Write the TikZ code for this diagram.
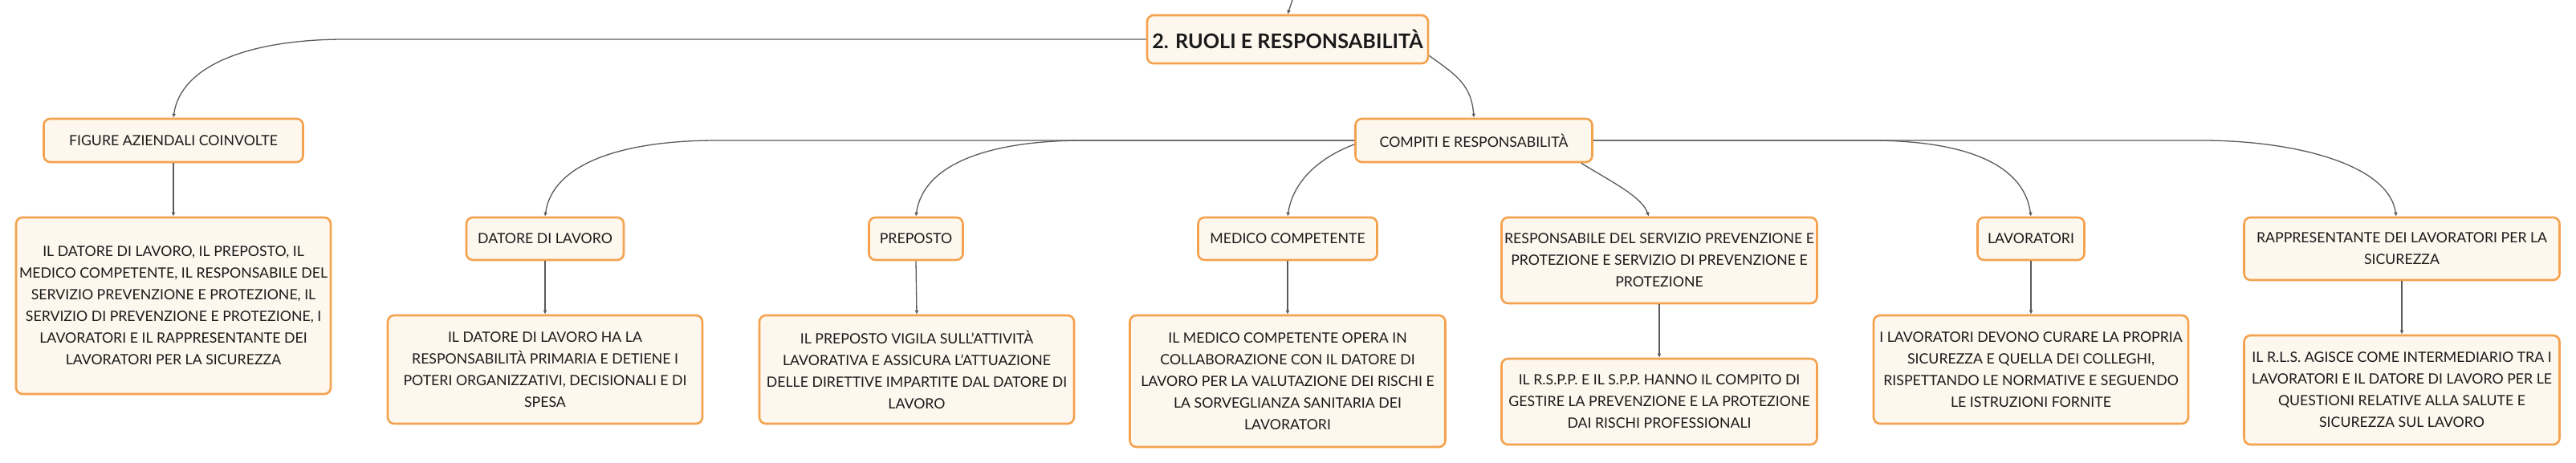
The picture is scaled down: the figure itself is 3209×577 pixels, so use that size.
\documentclass[tikz,border=0pt]{standalone}
\usepackage{fontspec}
\setmainfont{Lato}
\usepackage{xcolor}
\usepackage{tikz}
\usetikzlibrary{arrows.meta,calc}

\definecolor{cardline}{HTML}{F4A24E}
\definecolor{cardfill}{HTML}{FEF7EE}
\definecolor{connline}{HTML}{5A5A5A}
\definecolor{cardtext}{HTML}{1A1A1A}

\begin{document}
\begin{tikzpicture}[x=0.5pt, y=-0.5pt,
		card/.style={draw=cardline, fill=cardfill, line width=1.3pt, rounded corners=4pt, inner sep=1pt, align=center, text=cardtext, font=\fontsize{8.85pt}{13.5pt}\selectfont},
		rootcard/.style={card, font=\fontsize{12.6pt}{15pt}\selectfont\bfseries},
		conn/.style={draw=connline, line width=0.65pt, -{Latex[length=2.5pt,width=2.5pt]}}]
				
				\useasboundingbox (0,0) rectangle (3209,577);
				
				%Level 1
				\coordinate (sopra) at (1610,0);
				\node[rootcard, minimum width=175pt, minimum height=30pt] (ruoli) at (1604,49) {2. RUOLI E RESPONSABILITÀ};
				
				%Level 2
				\node[card, minimum width=161.5pt, minimum height=27pt] (figure) at (216,175) {FIGURE AZIENDALI COINVOLTE};
				\node[card, minimum width=147.5pt, minimum height=27pt] (compiti) at (1836,175) {COMPITI E RESPONSABILITÀ};
				
				%Level 3
				\node[card, minimum width=196pt, minimum height=110pt] (figtesto) at (216,381) {IL DATORE DI LAVORO, IL PREPOSTO, IL\\MEDICO COMPETENTE, IL RESPONSABILE DEL\\SERVIZIO PREVENZIONE E PROTEZIONE, IL\\SERVIZIO DI PREVENZIONE E PROTEZIONE, I\\LAVORATORI E IL RAPPRESENTANTE DEI\\LAVORATORI PER LA SICUREZZA};
				\node[card, minimum width=98pt, minimum height=26.5pt] (datore) at (679,297.5) {DATORE DI LAVORO};
				\node[card, minimum width=58.5pt, minimum height=26.5pt] (preposto) at (1141,297.5) {PREPOSTO};
				\node[card, minimum width=111.5pt, minimum height=26.5pt] (medico) at (1604,297.5) {MEDICO COMPETENTE};
				\node[card, minimum width=196.5pt, minimum height=53.5pt] (rspp) at (2067,324.5) {RESPONSABILE DEL SERVIZIO PREVENZIONE E\\PROTEZIONE E SERVIZIO DI PREVENZIONE E\\PROTEZIONE};
				\node[card, minimum width=66.5pt, minimum height=26.5pt] (lavoratori) at (2530,297.5) {LAVORATORI};
				\node[card, minimum width=196.5pt, minimum height=39pt] (rls) at (2992,310) {RAPPRESENTANTE DEI LAVORATORI PER LA\\SICUREZZA};
				
				%Level 4
				\node[card, minimum width=196pt, minimum height=67.5pt] (datoretesto) at (679,460.5) {IL DATORE DI LAVORO HA LA\\RESPONSABILITÀ PRIMARIA E DETIENE I\\POTERI ORGANIZZATIVI, DECISIONALI E DI\\SPESA};
				\node[card, minimum width=196pt, minimum height=67.5pt] (prepostotesto) at (1142,460.5) {IL PREPOSTO VIGILA SULL'ATTIVITÀ\\LAVORATIVA E ASSICURA L'ATTUAZIONE\\DELLE DIRETTIVE IMPARTITE DAL DATORE DI\\LAVORO};
				\node[card, minimum width=196.5pt, minimum height=82pt] (medicotesto) at (1604,475) {IL MEDICO COMPETENTE OPERA IN\\COLLABORAZIONE CON IL DATORE DI\\LAVORO PER LA VALUTAZIONE DEI RISCHI E\\LA SORVEGLIANZA SANITARIA DEI\\LAVORATORI};
				\node[card, minimum width=196.5pt, minimum height=53.5pt] (rspptesto) at (2067,500.5) {IL R.S.P.P. E IL S.P.P. HANNO IL COMPITO DI\\GESTIRE LA PREVENZIONE E LA PROTEZIONE\\DAI RISCHI PROFESSIONALI};
				\node[card, minimum width=196pt, minimum height=67.5pt] (lavtesto) at (2530,460.5) {I LAVORATORI DEVONO CURARE LA PROPRIA\\SICUREZZA E QUELLA DEI COLLEGHI,\\RISPETTANDO LE NORMATIVE E SEGUENDO\\LE ISTRUZIONI FORNITE};
				\node[card, minimum width=196.5pt, minimum height=68pt] (rlstesto) at (2992,486) {IL R.L.S. AGISCE COME INTERMEDIARIO TRA I\\LAVORATORI E IL DATORE DI LAVORO PER LE\\QUESTIONI RELATIVE ALLA SALUTE E\\SICUREZZA SUL LAVORO};
				
				%Lines
				\draw[conn] (sopra) -- (ruoli.north);
				\draw[conn] (ruoli.west) -- ($(figure.north |- ruoli.west)+(214,0)$) .. controls +(-120,0) and +(9,-65) .. (figure.north);
				\draw[conn] ([yshift=5.5pt]ruoli.south east) .. controls +(30,22) and +(-3,-43) .. (compiti.north);
				\draw[conn] (compiti.west) -- ($(datore.north |- compiti.west)+(214,0)$) .. controls +(-120,0) and +(9,-65) .. (datore.north);
				\draw[conn] (compiti.west) -- ($(preposto.north |- compiti.west)+(210,0)$) .. controls +(-120,0) and +(9,-65) .. (preposto.north);
				\draw[conn] ([yshift=-2.5pt]compiti.west) .. controls +(-33,12) and +(8,-51) .. (medico.north);
				\draw[conn] ([xshift=-7.5pt]compiti.south east) .. controls +(37,23) and +(-9,-25) .. ([xshift=-6.5pt]rspp.north);
				\draw[conn] (compiti.east) -- ($(lavoratori.north |- compiti.east)+(-201,0)$) .. controls +(120,0) and +(-9,-65) .. (lavoratori.north);
				\draw[conn] (compiti.east) -- ($(rls.north |- compiti.east)+(-249,0)$) .. controls +(115,0) and +(-9,-65) .. ([xshift=-3.5pt]rls.north);
				
				\draw[conn] (figure.south) -- (figtesto.north);
				\draw[conn] (datore.south) -- (datoretesto.north);
				\draw[conn] (preposto.south) -- (prepostotesto.north);
				\draw[conn] (medico.south) -- (medicotesto.north);
				\draw[conn] (rspp.south) -- (rspptesto.north);
				\draw[conn] (lavoratori.south) -- (lavtesto.north);
				\draw[conn] (rls.south) -- (rlstesto.north);
			\end{tikzpicture}
\end{document}
